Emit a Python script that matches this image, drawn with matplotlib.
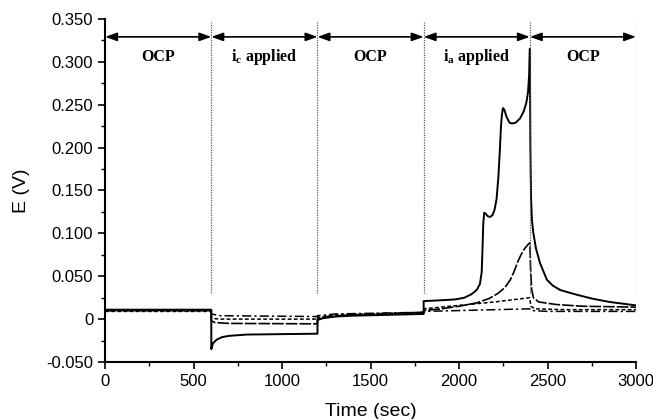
import matplotlib
matplotlib.use("Agg")
import matplotlib.pyplot as plt
from matplotlib.ticker import MultipleLocator, FuncFormatter

# phase boundaries and labels
bounds = [0, 600, 1200, 1800, 2400, 3000]
phase_labels = ["OCP", r"i$_\mathregular{c}$ applied", "OCP",
                r"i$_\mathregular{a}$ applied", "OCP"]

# solid curve
t_solid = [0, 600, 600, 610, 630, 660, 700, 800, 1000, 1200, 1200, 1230, 1300, 1400,
           1600, 1800, 1800, 1900, 1980, 2030, 2070, 2100, 2118, 2128, 2133, 2137, 2142,
           2150, 2162, 2175, 2188, 2200, 2212, 2222, 2230, 2237, 2242, 2248, 2256,
           2268, 2285, 2300, 2320, 2345, 2365, 2380, 2390, 2396, 2400, 2403, 2407,
           2412, 2420, 2435, 2458, 2496, 2530, 2571, 2620, 2673, 2750, 2850, 3000]
e_solid = [0.011, 0.011, -0.035, -0.028, -0.024, -0.021, -0.0195, -0.018, -0.0175,
           -0.017, -0.001, 0.001, 0.003, 0.004, 0.005, 0.006, 0.021, 0.022, 0.023,
           0.025, 0.029, 0.034, 0.041, 0.055, 0.085, 0.112, 0.124, 0.123, 0.120, 0.119,
           0.121, 0.127, 0.140, 0.165, 0.195, 0.225, 0.238, 0.246, 0.244, 0.236,
           0.229, 0.228, 0.229, 0.234, 0.242, 0.252, 0.265, 0.285, 0.315, 0.200,
           0.140, 0.115, 0.100, 0.082, 0.065, 0.046, 0.039, 0.034, 0.031, 0.028,
           0.024, 0.020, 0.016]

# long dashed curve
t_dash = [0, 600, 600, 620, 700, 1200, 1200, 1250, 1400, 1800, 1800, 1900, 2000,
          2100, 2170, 2220, 2260, 2290, 2310, 2330, 2350, 2370, 2390, 2400, 2404,
          2410, 2420, 2450, 2550, 2700, 3000]
e_dash = [0.010, 0.010, -0.002, -0.004, -0.005, -0.0055, 0.0, 0.003, 0.005, 0.007,
          0.010, 0.012, 0.015, 0.019, 0.024, 0.030, 0.037, 0.046, 0.055, 0.066,
          0.075, 0.082, 0.087, 0.089, 0.060, 0.035, 0.025, 0.020, 0.017, 0.015, 0.014]

# short dashed curve
t_short = [0, 600, 600, 650, 1200, 1200, 1300, 1800, 1800, 2000, 2200, 2400, 2405,
           2430, 2600, 3000]
e_short = [0.009, 0.009, 0.001, 0.0, 0.0, 0.002, 0.005, 0.008, 0.012, 0.016, 0.020,
           0.025, 0.015, 0.012, 0.011, 0.011]

# dash-dot curve
t_dd = [0, 600, 600, 650, 1200, 1200, 1300, 1800, 1800, 2000, 2400, 2410, 2500, 3000]
e_dd = [0.010, 0.010, 0.006, 0.004, 0.003, 0.004, 0.006, 0.008, 0.009, 0.010, 0.012,
        0.010, 0.009, 0.009]

fig = plt.figure(figsize=(6.53, 4.19), dpi=100)
ax = fig.add_axes([0.161, 0.136, 0.813, 0.819])

ax.plot(t_dd, e_dd, color="black", lw=1.1, ls=(0, (6, 2, 1.5, 2)))
ax.plot(t_short, e_short, color="black", lw=1.1, ls=(0, (2.5, 1.5)))
ax.plot(t_dash, e_dash, color="black", lw=1.2, ls=(0, (7, 1.2)))
ax.plot(t_solid, e_solid, color="black", lw=1.4)

# phase separators, arrows and labels
for b in bounds[1:]:
    ax.plot([b, b], [0.031, 0.346], color="0.35", lw=0.9, ls=(0, (1, 1)))
for i, lab in enumerate(phase_labels):
    a, b = bounds[i], bounds[i + 1]
    ax.annotate("", xy=(b, 0.329), xytext=(a, 0.329),
                arrowprops=dict(arrowstyle="<|-|>,head_length=0.7,head_width=0.25",
                                color="black", lw=1.2, shrinkA=0, shrinkB=0))
    ax.text((a + b) / 2, 0.305, lab, ha="center", va="center",
            family="Liberation Serif", fontweight="bold", fontsize=11.5)

ax.set_xlim(0, 3000)
ax.set_ylim(-0.05, 0.35)
ax.xaxis.set_major_locator(MultipleLocator(500))
ax.xaxis.set_minor_locator(MultipleLocator(250))
ax.yaxis.set_major_locator(MultipleLocator(0.05))
ax.yaxis.set_minor_locator(MultipleLocator(0.025))
ax.yaxis.set_major_formatter(FuncFormatter(lambda v, p: "0" if abs(v) < 1e-9 else f"{v:.3f}"))

for s in ["top", "right"]:
    ax.spines[s].set_visible(False)
for s in ["left", "bottom"]:
    ax.spines[s].set_linewidth(1.5)
ax.tick_params(which="major", direction="out", length=5, width=1.2,
               labelsize=12, labelfontfamily="Liberation Sans")
ax.tick_params(which="minor", direction="out", length=3, width=1.0)

ax.set_xlabel("Time (sec)", fontsize=14, family="Liberation Sans", labelpad=10)
ax.set_ylabel("E (V)", fontsize=14, family="Liberation Sans", labelpad=12)

fig.savefig("out.png", dpi=100, facecolor="white")
